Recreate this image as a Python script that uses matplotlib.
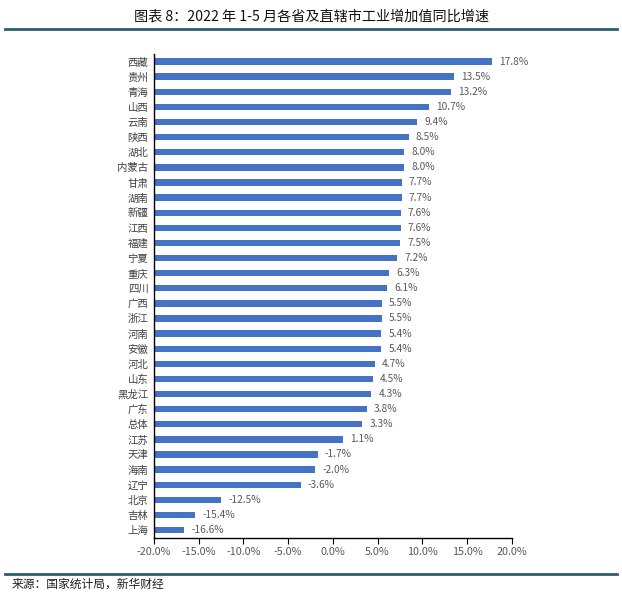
import numpy as np
import matplotlib
matplotlib.use('Agg')
import matplotlib.pyplot as plt
from matplotlib.lines import Line2D

plt.rcParams['font.family'] = ['Noto Sans CJK SC', 'DejaVu Sans']

provinces = ['西藏', '贵州', '青海', '山西', '云南', '陕西', '湖北', '内蒙古', '甘肃', '湖南',
             '新疆', '江西', '福建', '宁夏', '重庆', '四川', '广西', '浙江', '河南', '安徽',
             '河北', '山东', '黑龙江', '广东', '总体', '江苏', '天津', '海南', '辽宁', '北京',
             '吉林', '上海']
growth = [17.8, 13.5, 13.2, 10.7, 9.4, 8.5, 8.0, 8.0, 7.7, 7.7,
          7.6, 7.6, 7.5, 7.2, 6.3, 6.1, 5.5, 5.5, 5.4, 5.4,
          4.7, 4.5, 4.3, 3.8, 3.3, 1.1, -1.7, -2.0, -3.6, -12.5,
          -15.4, -16.6]
xticks = [-20, -15, -10, -5, 0, 5, 10, 15, 20]

base = -20
fig = plt.figure(figsize=(6.22, 6.0), dpi=100)
ax = fig.add_axes([0.2476, 0.104, 0.575, 0.806])

y = np.arange(len(provinces))
vals = np.array(growth)
ax.barh(y, vals - base, left=base, height=0.42, color='#4472C4')
for yi, v in zip(y, vals):
    ax.text(v + 0.8, yi, f'{v:.1f}%', va='center', ha='left', fontsize=7.3, color='#595959')

ax.set_ylim(len(provinces) - 0.5, -0.5)
ax.set_xlim(-20, 20)
ax.set_yticks(y)
ax.set_yticklabels(provinces, fontsize=7.5, color='#404040')
ax.tick_params(axis='y', length=0, pad=4)
ax.set_xticks(xticks)
ax.set_xticklabels([f'{t:.1f}%' for t in xticks], fontsize=7.8, color='#595959')
ax.tick_params(axis='x', length=4, width=0.8, color='#000000', pad=3)
ax.spines['top'].set_visible(False)
ax.spines['right'].set_visible(False)
ax.spines['left'].set_linewidth(1.0)
ax.spines['bottom'].set_linewidth(1.0)

fig.text(0.5, 0.972, '图表 8：2022 年 1-5 月各省及直辖市工业增加值同比增速',
         ha='center', va='center', fontsize=10.2, fontweight='medium', color='#111111')
fig.add_artist(Line2D([0.008, 0.992], [0.951, 0.951], color='#2E5E6E', linewidth=2.0))
fig.add_artist(Line2D([0.008, 0.992], [0.043, 0.043], color='#2E5E6E', linewidth=2.0))
fig.text(0.018, 0.026, '来源：国家统计局，新华财经', ha='left', va='center', fontsize=8.5, color='#202020')

fig.savefig('out.png', dpi=100)
